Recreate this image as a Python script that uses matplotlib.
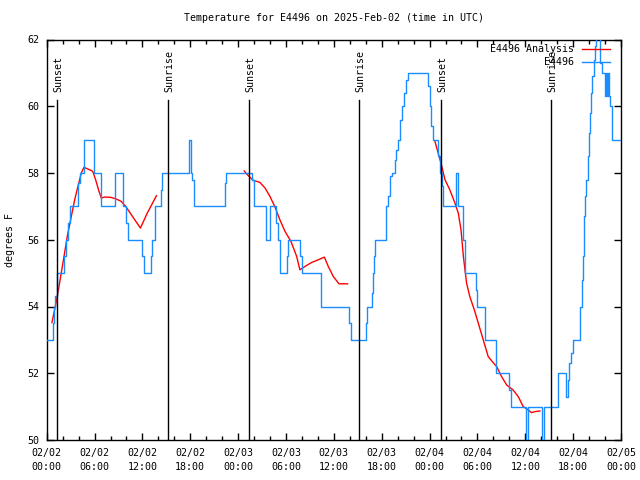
import matplotlib
matplotlib.use("Agg")
import matplotlib.pyplot as plt
import matplotlib.transforms as mtransforms
from matplotlib.ticker import MultipleLocator

# ---------------- data (hours since 2025-02-02 00:00 UTC, degrees F) ----------------
obs_hours = [0.0, 0.8, 0.92, 1.1, 1.31, 2.16, 2.36, 2.61, 2.91, 3.97, 4.17, 4.62, 5.98,
             6.83, 8.54, 9.54, 9.99, 10.15, 11.95, 12.26, 13.06, 13.21, 13.56, 14.32, 14.47,
             17.78, 18.03, 18.18, 18.48, 22.3, 22.5, 25.77, 26.02, 27.5, 28.03, 28.73, 29.03,
             29.23, 30.09, 30.29, 31.75, 31.95, 34.36, 37.93, 38.14, 39.98, 40.18, 40.74,
             40.89, 41.04, 41.19, 42.6, 42.85, 43.1, 43.3, 43.65, 43.85, 44.1, 44.25, 44.55,
             44.8, 45.06, 45.26, 47.77, 48.02, 48.22, 48.37, 49.07, 49.28, 49.53, 49.73,
             51.28, 51.59, 52.24, 52.44, 53.8, 54.0, 54.9, 56.31, 57.97, 58.22, 60.07, 60.38,
             62.14, 62.39, 64.04, 65.05, 65.3, 65.45, 65.7, 65.95, 66.8, 67.06, 67.21, 67.31,
             67.41, 67.51, 67.61, 67.81, 67.96, 68.11, 68.26, 68.41, 68.61, 68.76, 68.86,
             69.42, 69.67, 69.97, 70.17, 70.27, 70.37, 70.47, 70.62, 70.87, 72.0]
obs_temps = [53, 53.5, 54, 54.3, 55, 55.5, 56, 56.5, 57, 57.7, 58, 59, 58,
             57, 58, 57, 56.5, 56, 55.5, 55, 55.5, 56, 57, 57.5, 58,
             59, 58, 57.8, 57, 57.7, 58, 57.8, 57, 56, 57, 56.5, 56,
             55, 55.5, 56, 55.5, 55, 54, 53.5, 53, 53.5, 54, 54.4,
             55, 55.5, 56, 57, 57.3, 57.9, 58, 58.4, 58.7, 59, 59.6, 60,
             60.4, 60.8, 61, 60.6, 60, 59.4, 59, 58.5, 58, 57.6, 57,
             58, 57, 56, 55, 54.5, 54, 53, 52, 51.5, 51, 50, 51,
             50, 51, 52, 51.3, 51.8, 52.3, 52.6, 53, 54, 54.8, 55.5, 56,
             56.7, 57.3, 57.8, 58.5, 59.2, 59.8, 60.4, 60.9, 61.4, 61.8, 62.5,
             61.3, 61, 60.3, 61, 60.3, 61, 60.3, 60, 59, 59]

ana1_hours = [0.66, 1.33, 1.75, 2.17, 2.58, 3.0, 3.51, 3.92, 4.34, 4.67, 5.17, 5.77, 6.13,
              6.56, 6.85, 7.26, 8.02, 8.64, 9.34, 9.9, 10.75, 11.75, 12.61, 13.76]
ana1_temps = [53.52, 54.3, 54.9, 55.5, 56.1, 56.6, 57.2, 57.6, 58.0, 58.17, 58.12, 58.05, 57.8,
              57.45, 57.25, 57.28, 57.27, 57.23, 57.15, 57.0, 56.7, 56.35, 56.8, 57.32]
ana2_hours = [24.76, 25.27, 25.9, 26.72, 27.37, 27.99, 28.62, 29.23, 29.88, 30.62, 31.34,
              31.74, 32.38, 33.22, 34.06, 34.81, 35.3, 35.93, 36.64, 37.72]
ana2_temps = [58.06, 57.92, 57.78, 57.72, 57.55, 57.3, 56.98, 56.6, 56.25, 55.95, 55.5,
              55.1, 55.2, 55.32, 55.4, 55.48, 55.2, 54.9, 54.68, 54.68]
ana3_hours = [48.67, 49.31, 49.53, 49.93, 50.53, 51.18, 51.6, 51.94, 52.24, 52.64, 53.04,
              53.61, 54.11, 54.73, 55.35, 55.86, 56.41, 57.03, 57.66, 58.47, 59.12, 59.74,
              60.38, 60.78, 61.21, 61.83]
ana3_temps = [58.95, 58.4, 58.2, 57.8, 57.5, 57.1, 56.8, 56.3, 55.5, 54.7, 54.3,
              53.9, 53.5, 53.0, 52.5, 52.35, 52.2, 51.9, 51.65, 51.5, 51.3, 51.0,
              50.9, 50.82, 50.85, 50.87]

sun_hours = [1.33, 15.23, 25.38, 39.2, 49.44, 63.2]
sun_labels = ["Sunset", "Sunrise", "Sunset", "Sunrise", "Sunset", "Sunrise"]

tick_hours = [0, 6, 12, 18, 24, 30, 36, 42, 48, 54, 60, 66, 72]
tick_labels = ["02/02\n00:00", "02/02\n06:00", "02/02\n12:00", "02/02\n18:00",
               "02/03\n00:00", "02/03\n06:00", "02/03\n12:00", "02/03\n18:00",
               "02/04\n00:00", "02/04\n06:00", "02/04\n12:00", "02/04\n18:00",
               "02/05\n00:00"]
y_ticks = [50, 52, 54, 56, 58, 60, 62]

title = "Temperature for E4496 on 2025-Feb-02 (time in UTC)"
ylabel = "degrees F"
label_ana = "E4496 Analysis"
label_obs = "E4496"

# ---------------- style ----------------
FS = 7.2
plt.rcParams['font.family'] = ['DejaVu Sans Mono']
plt.rcParams['font.size'] = FS
RED = '#ff0000'
BLUE = '#1a8cff'

fig = plt.figure(figsize=(6.4, 4.8), dpi=100)
L, R, T, B = 46.7, 621.0, 39.5, 440.0
ax = fig.add_axes([L / 640, 1 - B / 480, (R - L) / 640, (B - T) / 480])

la, = ax.plot(ana1_hours, ana1_temps, color=RED, lw=1, label=label_ana, zorder=2)
ax.plot(ana2_hours, ana2_temps, color=RED, lw=1, zorder=2)
ax.plot(ana3_hours, ana3_temps, color=RED, lw=1, zorder=2)
lo, = ax.plot(obs_hours, obs_temps, color=BLUE, lw=1, drawstyle='steps-post',
              label=label_obs, zorder=3)

trans = mtransforms.blended_transform_factory(ax.transData, ax.transAxes)
for h, lab in zip(sun_hours, sun_labels):
    ax.axvline(h, ymin=0, ymax=0.85, color='black', lw=1, zorder=4)
    ax.text(h + 0.15, 0.868, lab, rotation=90, transform=trans,
            ha='center', va='bottom', fontsize=FS)

ax.set_xlim(0, 72)
ax.set_ylim(50, 62)
ax.set_xticks(tick_hours)
ax.set_xticklabels(tick_labels, linespacing=1.45)
ax.xaxis.set_minor_locator(MultipleLocator(2))
ax.set_yticks(y_ticks)
ax.set_yticklabels([str(v) for v in y_ticks])
ax.tick_params(which='both', direction='in', top=True, right=True, width=1)
ax.tick_params(which='major', length=5)
ax.tick_params(which='minor', length=3)
ax.tick_params(axis='x', which='major', pad=6)
ax.tick_params(axis='y', which='major', pad=5)
for s in ax.spines.values():
    s.set_linewidth(1)

ax.text(0.5, 1 + 21.5 / 400, title, transform=ax.transAxes, ha='center', va='center',
        fontsize=FS)
ax.text(-(L - 10) / (R - L), 0.5, ylabel, transform=ax.transAxes, rotation=90,
        ha='center', va='center', fontsize=FS)

leg = ax.legend(handles=[la, lo], loc='upper right', frameon=False, markerfirst=False,
                bbox_to_anchor=((610 - L) / (R - L), (B - 44) / (B - T)),
                borderpad=0, borderaxespad=0, handlelength=2.8, handletextpad=0.8,
                labelspacing=0.3, fontsize=FS)

fig.savefig("out.png", dpi=100)
